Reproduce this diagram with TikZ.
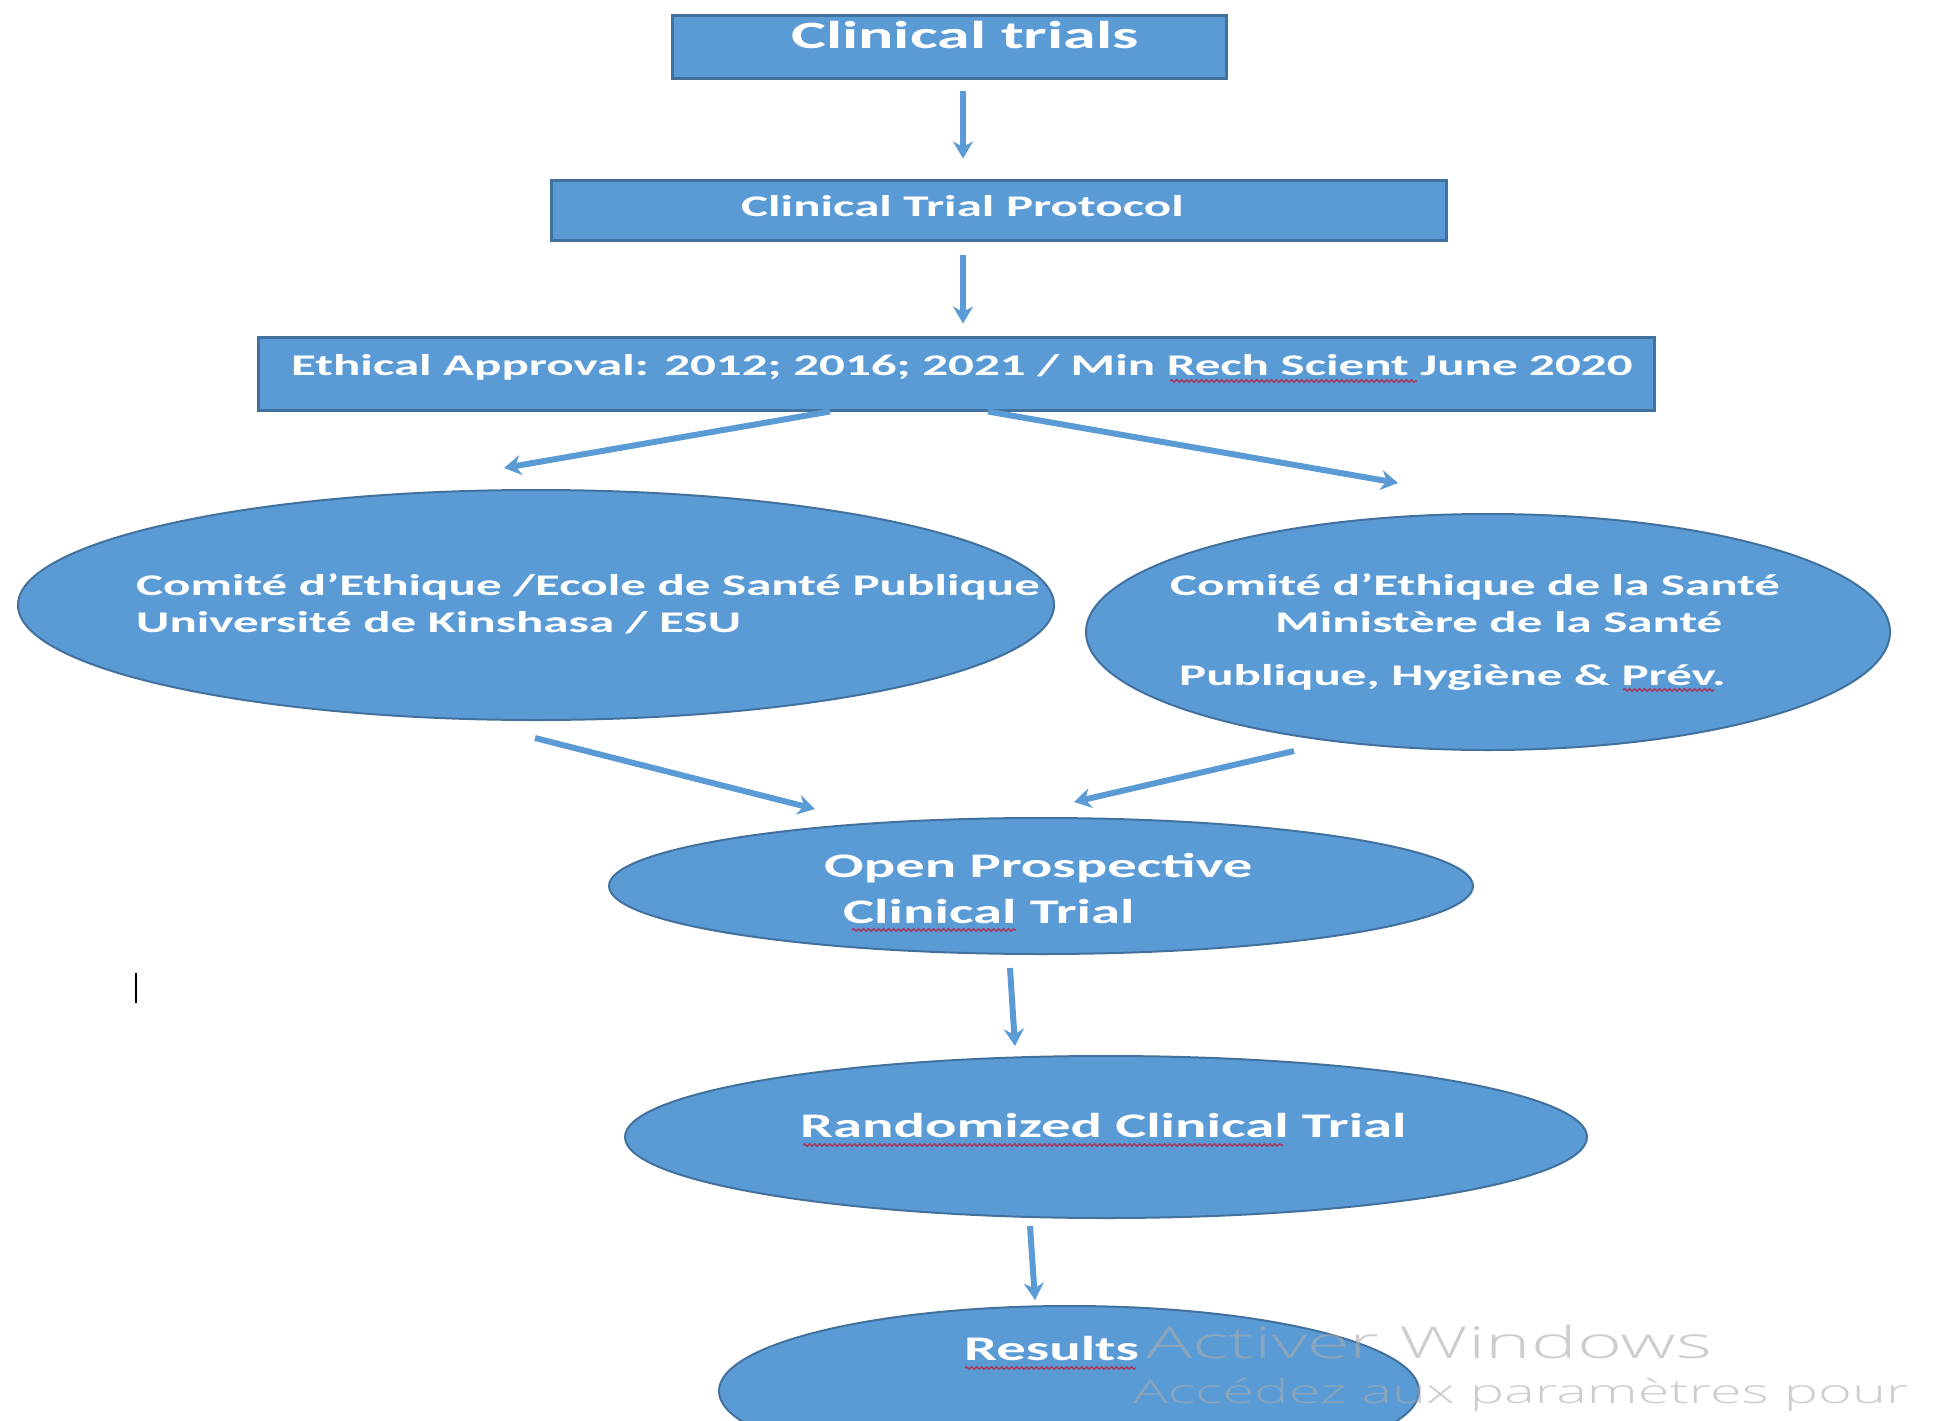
\documentclass[tikz,border=0pt]{standalone}
\usepackage{fontspec}
\usetikzlibrary{shapes.geometric,arrows.meta,decorations.pathmorphing}
\newfontfamily\flowfont[FakeStretch=1.7]{Carlito}
\newfontfamily\winfont[FakeStretch=1.75]{Open Sans Light}
\definecolor{boxblue}{HTML}{5B9BD5}
\definecolor{edgeblue}{HTML}{41719C}
\definecolor{squig}{HTML}{A8385A}
\tikzset{>={Stealth[length=17pt,width=20pt]}}
\tikzset{
  flowbox/.style={rectangle, draw=edgeblue, line width=3pt, fill=boxblue, inner sep=0pt},
  flowoval/.style={ellipse, draw=edgeblue, line width=2pt, fill=boxblue, inner sep=0pt},
  flowtxt/.style={anchor=base west, inner sep=0pt, text=white,
    font=\flowfont\bfseries\fontsize{30}{36}\selectfont},
  bigtxt/.style={flowtxt, font=\flowfont\bfseries\fontsize{34.5}{40}\selectfont},
  flowarr/.style={->, draw=boxblue, line width=6pt},
  spell/.style={draw=squig, line width=1.5pt, decorate,
    decoration={snake, amplitude=1.2pt, segment length=5pt}},
  wintxt/.style={anchor=base west, inner sep=0pt, text=gray!65, opacity=0.6}
}

\begin{document}
\begin{tikzpicture}[x=1pt, y=-1pt]
\useasboundingbox (0,0) rectangle (1936,1421);
\node[flowbox, minimum width=554pt, minimum height=63pt] (trials) at (949,47.5) {};
\node[flowbox, minimum width=895pt, minimum height=60pt] (protocol) at (998.5,210) {};
\node[flowbox, minimum width=1396pt, minimum height=73pt] (approval) at (956,373.5) {};
\node[flowoval, minimum width=1036pt, minimum height=230pt] (cesp) at (536,605) {};
\node[flowoval, minimum width=804pt, minimum height=236pt] (cems) at (1488,632) {};
\node[flowoval, minimum width=864pt, minimum height=136pt] (open) at (1041,886) {};
\node[flowoval, minimum width=962pt, minimum height=162pt] (rand) at (1106,1137) {};
\node[flowoval, minimum width=700pt, minimum height=170pt] (res) at (1069,1391) {};
\node[flowtxt, font=\flowfont\bfseries\fontsize{38.8}{44}\selectfont] (t-trials) at (791,49) {Clinical trials};
\node[flowtxt] (t-protocol) at (741,216) {Clinical Trial Protocol};
\node[flowtxt] (t-approval) at (291,375) {Ethical Approval: 2012; 2016; 2021 / Min Rech Scient June 2020};
\node[flowtxt] (t-cesp1) at (136,595) {Comité d’Ethique /Ecole de Santé Publique};
\node[flowtxt] (t-cesp2) at (136,632) {Université de Kinshasa / ESU};
\node[flowtxt] (t-cems1) at (1170,595) {Comité d’Ethique de la Santé};
\node[flowtxt] (t-cems2) at (1275,632) {Ministère de la Santé};
\node[flowtxt] (t-cems3) at (1179,685) {Publique, Hygiène \& Prév.};
\node[bigtxt] (t-open1) at (824,877) {Open Prospective};
\node[bigtxt] (t-open2) at (843,923) {Clinical Trial};
\node[bigtxt] (t-rand) at (800,1137) {Randomized Clinical Trial};
\node[bigtxt] (t-res) at (964,1360) {Results};
\draw[flowarr, shorten <=10pt, shorten >=20pt] ([xshift=14pt]trials.south) -- ([xshift=-35.5pt]protocol.north);
\draw[flowarr, shorten <=13pt, shorten >=12pt] ([xshift=-35.5pt]protocol.south) -- ([xshift=7pt]approval.north);
\draw[flowarr] ([xshift=-126pt]approval.south) -- ([xshift=-32pt,yshift=21pt]cesp.north);
\draw[flowarr] ([xshift=32pt]approval.south) -- ([xshift=-90pt,yshift=30pt]cems.north);
\draw[flowarr] ([xshift=-1pt,yshift=-17pt]cesp.south) -- ([xshift=-226pt,yshift=8pt]open.north);
\draw[flowarr] ([xshift=-194pt]cems.south) -- ([xshift=33pt,yshift=15pt]open.north);
\draw[flowarr] ([xshift=-31pt,yshift=-13pt]open.south) -- ([xshift=-91pt,yshift=9pt]rand.north);
\draw[flowarr] ([xshift=-76pt,yshift=-7pt]rand.south) -- ([xshift=-34pt,yshift=5pt]res.north);
\draw[spell] (1170,381) -- (1417,381);
\draw[spell] (1623,690) -- (1714,690);
\draw[spell] (852,930) -- (1016,930);
\draw[spell] (803,1145) -- (1283,1145);
\draw[spell] (965,1368) -- (1136,1368);
\draw[black, line width=1.5pt] (136,973) -- (136,1003);
\node[wintxt, font=\winfont\fontsize{44}{48}\selectfont] (win1) at (1146,1358) {Activer Windows};
\node[wintxt, font=\winfont\fontsize{33}{38}\selectfont] (win2) at (1133,1403) {Accédez aux paramètres pour};
\end{tikzpicture}
\end{document}
